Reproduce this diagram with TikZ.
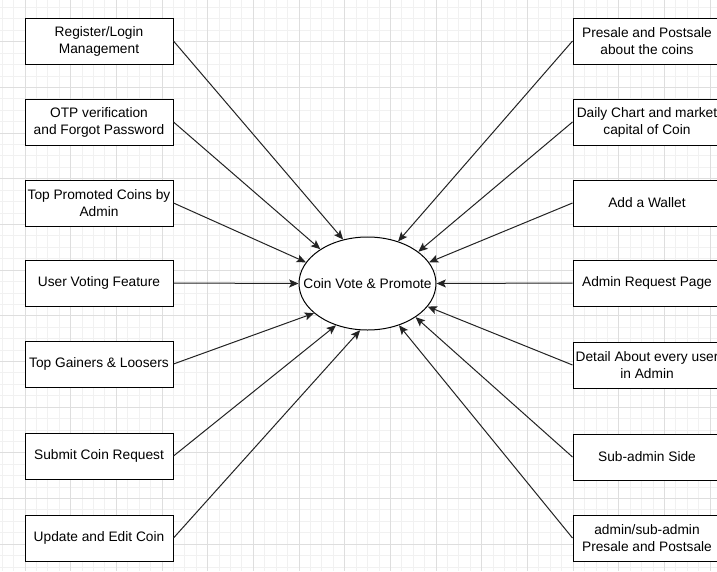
\documentclass[tikz,border=0pt]{standalone}
\usepackage{fontspec}
\setmainfont{Liberation Sans}
\usetikzlibrary{arrows.meta,shapes.geometric}
\definecolor{gridminor}{RGB}{241,241,241}
\definecolor{gridmajor}{RGB}{222,222,222}
\definecolor{linkgray}{RGB}{35,35,35}
\begin{document}
\begin{tikzpicture}[x=0.75pt, y=-0.75pt,
  box/.style = {draw, fill=white, line width=0.75pt, minimum width=111pt, minimum height=34.5pt, inner xsep=0pt, align=center, font=\fontsize{10.3}{12.75}\selectfont},
  hub/.style = {draw, ellipse, fill=white, line width=0.75pt, minimum width=102.75pt, minimum height=69.75pt, inner sep=0pt, font=\fontsize{10.3}{12.75}\selectfont},
  link/.style = {-{Stealth[length=7pt, width=6pt, inset=1.5pt]}, line width=0.75pt, draw=linkgray},
  minor/.style = {draw=gridminor, line width=0.6pt},
  major/.style = {draw=gridmajor, line width=0.6pt}]
\useasboundingbox (0,0) rectangle (717,571);
\clip (0,0) rectangle (717,571);
\fill[white] (0,0) rectangle (717,571);
% background grid
\foreach \i in {0,...,62} \draw[minor] ({2.06+11.42*\i},0) -- ++(0,571);
\foreach \j in {0,...,49} \draw[minor] (0,{7.4+11.42*\j}) -- ++(717,0);
\foreach \i in {0,...,15} \draw[major] ({24.9+45.68*\i},0) -- ++(0,571);
\foreach \j in {0,...,11} \draw[major] (0,{41.7+45.68*\j}) -- ++(717,0);
% centre
\node[hub] (coin) at (367.5,283.5) {\makebox[0pt]{Coin Vote \& Promote}};
% left column
\node[box] (l1) at (99,41) {Register/Login\\Management};
\node[box] (l2) at (99,122) {OTP verification\\and Forgot Password};
\node[box] (l3) at (99,203) {Top Promoted Coins by\\Admin};
\node[box] (l4) at (99,283) {User Voting Feature};
\node[box] (l5) at (99,364) {Top Gainers \& Loosers};
\node[box] (l6) at (99,456) {Submit Coin Request};
\node[box] (l7) at (99,538) {Update and Edit Coin};
% right column
\node[box] (r1) at (647,41) {Presale and Postsale\\about the coins};
\node[box] (r2) at (647,122) {Daily Chart and market\\capital of Coin};
\node[box] (r3) at (647,203) {Add a Wallet};
\node[box] (r4) at (647,283) {Admin Request Page};
\node[box] (r5) at (647,365) {Detail About every user\\in Admin};
\node[box] (r6) at (647,457) {Sub-admin Side};
\node[box] (r7) at (647,538) {admin/sub-admin\\Presale and Postsale};
\draw[link] (l1.east) -- (coin.119);
\draw[link] (l2.east) -- (coin.144);
\draw[link] (l3.east) -- (coin.161);
\draw[link] (l4.east) -- (coin.180);
\draw[link] (l5.east) -- (coin.209);
\draw[link] (l6.east) -- (coin.233);
\draw[link] (l7.east) -- (coin.261);
\draw[link] (r1.west) -- (coin.54);
\draw[link] (r2.west) -- (coin.32);
\draw[link] (r3.west) -- (coin.19);
\draw[link] (r4.west) -- (coin.0);
\draw[link] (r5.west) -- (coin.-21);
\draw[link] (r6.west) -- (coin.-35);
\draw[link] (r7.west) -- (coin.-53);
\end{tikzpicture}
\end{document}
